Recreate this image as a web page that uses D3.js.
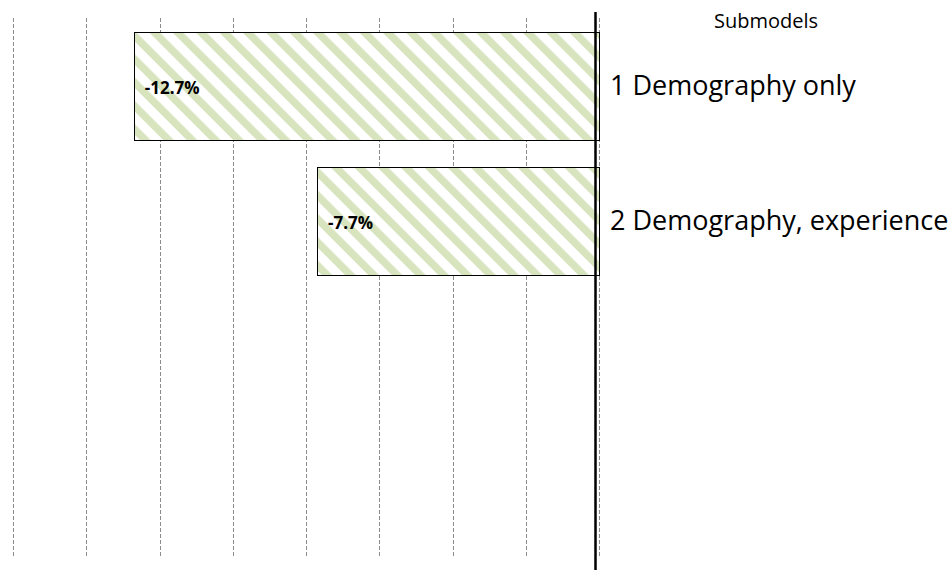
<!DOCTYPE html>
<html>
<head>
<meta charset="utf-8">
<script src="https://d3js.org/d3.v7.min.js"></script>
<style>
  html, body { margin: 0; padding: 0; background: #fff; }
  svg { display: block; font-family: "Open Sans", sans-serif; }
</style>
</head>
<body>
<svg id="chart" width="951" height="570"></svg>
<script>
// data
const categories = ['1 Demography only', '2 Demography, experience']
const values = [-12.7, -7.7]
const valueLabels = ['-12.7%', '-7.7%']
const gridTicks = [-16, -14, -12, -10, -8, -6, -4, -2, 0]
const legendTitle = 'Submodels'

const width = 951
const height = 570
const plotTop = 18
const plotBottom = 558

const svg = d3.select('#chart')

// stripe pattern like the excel "wide downward diagonal"
const defs = svg.append('defs')
const pat = defs.append('pattern')
  .attr('id', 'stripes')
  .attr('patternUnits', 'userSpaceOnUse')
  .attr('width', 16.5).attr('height', 16.5)
  .attr('patternTransform', 'rotate(-45)')
pat.append('rect').attr('width', 16.5).attr('height', 16.5).attr('fill', '#fff')
pat.append('rect').attr('width', 7.5).attr('height', 16.5).attr('fill', '#d7e4bd')

const x = d3.scaleLinear().domain([-16, 0]).range([13, 599])
const y = d3.scaleBand().domain(categories).range([plotTop, plotTop + 270])
  .paddingInner(0.2).paddingOuter(0.1)

// dashed gridlines
svg.append('g').selectAll('line').data(gridTicks)
  .enter().append('line')
  .attr('x1', d => Math.round(x(d)) + 0.5).attr('x2', d => Math.round(x(d)) + 0.5)
  .attr('y1', plotTop).attr('y2', plotBottom)
  .attr('stroke', '#8c8c8c').attr('stroke-width', 1)
  .attr('stroke-dasharray', '4,2')

// bars
svg.append('g').selectAll('rect').data(values)
  .enter().append('rect')
  .attr('x', d => Math.round(x(d)) + 0.5)
  .attr('y', (d, i) => Math.round(y(categories[i])) + 0.5)
  .attr('width', d => Math.round(x(0)) - Math.round(x(d)))
  .attr('height', Math.round(y.bandwidth()))
  .attr('fill', 'url(#stripes)')
  .attr('stroke', '#000').attr('stroke-width', 1)

// value labels inside bars
svg.append('g').selectAll('text').data(values)
  .enter().append('text')
  .attr('x', d => x(d) + 11)
  .attr('y', (d, i) => y(categories[i]) + y.bandwidth() / 2)
  .attr('dy', '0.48em')
  .attr('font-size', 17).attr('font-weight', 'bold')
  .attr('fill', '#000')
  .text((d, i) => valueLabels[i])

// vertical axis line
svg.append('line')
  .attr('x1', x(0) - 3.5).attr('x2', x(0) - 3.5)
  .attr('y1', 12).attr('y2', height)
  .attr('stroke', '#000').attr('stroke-width', 2.5)

// category labels on the right
svg.append('g').selectAll('text').data(categories)
  .enter().append('text')
  .attr('x', 610)
  .attr('y', d => y(d) + y.bandwidth() / 2)
  .attr('dy', '0.36em')
  .attr('font-size', 27).attr('fill', '#000')
  .text(d => d)

svg.append('text')
  .attr('x', 766).attr('y', 28)
  .attr('text-anchor', 'middle')
  .attr('font-size', 20).attr('fill', '#000')
  .text(legendTitle)
</script>
</body>
</html>
